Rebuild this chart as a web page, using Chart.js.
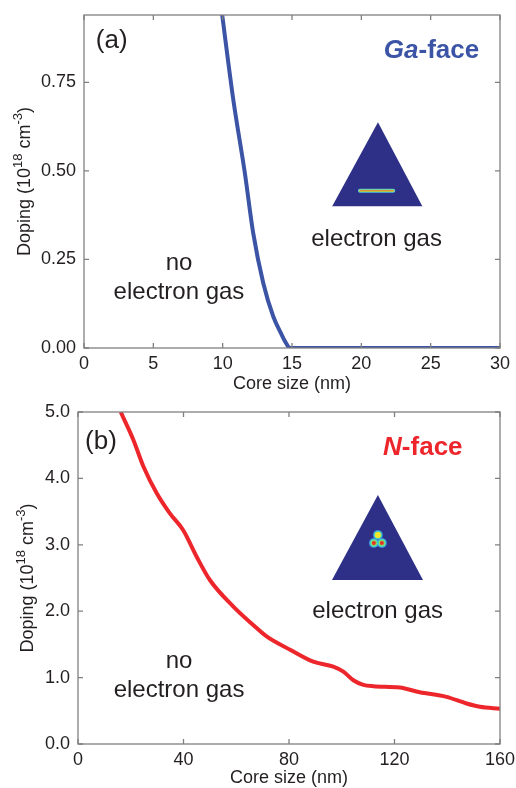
<!DOCTYPE html>
<html>
<head>
<meta charset="utf-8">
<script src="https://cdn.jsdelivr.net/npm/chart.js@4"></script>
<style>
  body { margin: 0; background: #fff; }
  .wrap { position: absolute; left: 0; }
  #topWrap { top: 0; }
  #botWrap { top: 395px; }
</style>
</head>
<body>
<div class="wrap" id="topWrap"><canvas id="topChart" width="516" height="395"></canvas></div>
<div class="wrap" id="botWrap"><canvas id="botChart" width="516" height="393"></canvas></div>
<script>
// (a) Ga-face: doping vs core size
const gaCore = [9.9, 10.77, 11.6, 12.2, 12.93, 13.65, 14.2, 14.6, 14.85, 20, 25, 30];
const gaDoping = [0.96, 0.70, 0.494, 0.325, 0.183, 0.089, 0.042, 0.012, 0, 0, 0, 0];
const gaYTicks = [0, 0.25, 0.5, 0.75];

// (b) N-face
const nCore = [16.2, 21, 24.8, 29.8, 34.9, 39.9, 45, 50, 58.9, 66.5, 71.5, 80.4, 89.2, 96.8, 100.6, 104.4, 108.2, 112, 122, 129.6, 139.7, 147.3, 152.4, 160];
const nDoping = [5.0, 4.58, 4.18, 3.78, 3.47, 3.22, 2.82, 2.47, 2.07, 1.79, 1.62, 1.42, 1.24, 1.165, 1.09, 0.96, 0.89, 0.87, 0.85, 0.78, 0.71, 0.61, 0.56, 0.53];
const nYTicks = [0, 1, 2, 3, 4, 5];

const FONT = '"Liberation Sans", Arial, sans-serif';
const TEXT = '#231f20';
const BLUE = '#3b54a5';
const RED = '#ec262b';

// frame, inward ticks, titles, labels and inset pictures
const decoPlugin = {
    id: 'deco',
    afterDraw(chart, args, opts) {
        const ctx = chart.ctx;
        const a = chart.chartArea;
        const xs = chart.scales.x, ys = chart.scales.y;
        ctx.save();
        ctx.strokeStyle = '#808080';
        ctx.lineWidth = 1.3;
        ctx.strokeRect(a.left, a.top, a.right - a.left, a.bottom - a.top);
        ctx.beginPath();
        xs.ticks.forEach(t => {
            const px = xs.getPixelForValue(t.value);
            ctx.moveTo(px, a.bottom); ctx.lineTo(px, a.bottom - 5);
            ctx.moveTo(px, a.top); ctx.lineTo(px, a.top + 5);
        });
        ys.ticks.forEach(t => {
            const py = ys.getPixelForValue(t.value);
            ctx.moveTo(a.left, py); ctx.lineTo(a.left + 5, py);
            ctx.moveTo(a.right, py); ctx.lineTo(a.right - 5, py);
        });
        ctx.stroke();

        // x title
        ctx.fillStyle = TEXT;
        ctx.font = '18px ' + FONT;
        ctx.textAlign = 'center';
        ctx.textBaseline = 'middle';
        ctx.fillText('Core size (nm)', (a.left + a.right) / 2, opts.xTitleY);

        // y title with superscripts
        const parts = [
            { t: 'Doping (10', s: 18, dy: 0 },
            { t: '18', s: 13, dy: -7 },
            { t: ' cm', s: 18, dy: 0 },
            { t: '-3', s: 13, dy: -7 },
            { t: ')', s: 18, dy: 0 }
        ];
        ctx.save();
        ctx.translate(opts.yTitleX, (a.top + a.bottom) / 2 + opts.yTitleShift);
        ctx.rotate(-Math.PI / 2);
        ctx.textAlign = 'left';
        let total = 0;
        parts.forEach(p => { ctx.font = p.s + 'px ' + FONT; p.w = ctx.measureText(p.t).width; total += p.w; });
        let cx = -total / 2;
        parts.forEach(p => {
            ctx.font = p.s + 'px ' + FONT;
            ctx.fillText(p.t, cx, p.dy);
            cx += p.w;
        });
        ctx.restore();

        // inset triangle
        const tri = opts.tri;
        const ax = xs.getPixelForValue(tri.apex[0]), ay = ys.getPixelForValue(tri.apex[1]);
        const bl = xs.getPixelForValue(tri.base[0]), br = xs.getPixelForValue(tri.base[1]);
        const by = ys.getPixelForValue(tri.baseY);
        ctx.fillStyle = '#2d3086';
        ctx.beginPath();
        ctx.moveTo(ax, ay); ctx.lineTo(br, by); ctx.lineTo(bl, by); ctx.closePath();
        ctx.fill();
        const fx = xs.getPixelForValue(tri.feat[0]), fy = ys.getPixelForValue(tri.feat[1]);
        if (tri.kind === 'streak') {
            const x2 = xs.getPixelForValue(tri.feat[2]);
            ctx.lineCap = 'round';
            [['#4fc6e6', 4], ['#9fe05a', 2.6], ['#f07a2a', 1.1]].forEach(([c, w]) => {
                ctx.strokeStyle = c; ctx.lineWidth = w;
                ctx.beginPath(); ctx.moveTo(fx, fy); ctx.lineTo(x2, fy); ctx.stroke();
            });
        } else {
            const lobes = [[0, -4.5], [-4, 3.5], [4, 3.5]];
            const dot = (x, y, r, c) => { ctx.fillStyle = c; ctx.beginPath(); ctx.arc(fx + x, fy + y, r, 0, Math.PI * 2); ctx.fill(); };
            lobes.forEach(([x, y]) => dot(x, y, 5, '#3a8fd6'));
            lobes.forEach(([x, y]) => dot(x, y, 4, '#46d1c8'));
            lobes.forEach(([x, y]) => dot(x, y, 3, '#8fe05a'));
            dot(0, -4.5, 3, '#f2e82a');
            dot(-4, 3.5, 2, '#e8302a');
            dot(4, 3.5, 2, '#e8302a');
        }

        // text labels
        ctx.textBaseline = 'middle';
        opts.labels.forEach(l => {
            ctx.font = l.font;
            ctx.fillStyle = l.color || TEXT;
            ctx.textAlign = l.align || 'center';
            ctx.fillText(l.text, xs.getPixelForValue(l.x), ys.getPixelForValue(l.y));
        });
        // face label: italic part + bold part, right aligned
        const f = opts.face;
        ctx.fillStyle = f.color;
        ctx.textAlign = 'left';
        ctx.font = 'italic bold 26px ' + FONT;
        const w1 = ctx.measureText(f.ital).width;
        ctx.font = 'bold 26px ' + FONT;
        const w2 = ctx.measureText(f.rest).width;
        const rx = xs.getPixelForValue(f.x), ry = ys.getPixelForValue(f.y);
        ctx.font = 'italic bold 26px ' + FONT;
        ctx.fillText(f.ital, rx - w1 - w2, ry);
        ctx.font = 'bold 26px ' + FONT;
        ctx.fillText(f.rest, rx - w2, ry);
        ctx.restore();
    }
};

function makeChart(id, xs, ys, color, cfg) {
    return new Chart(document.getElementById(id), {
        type: 'line',
        data: {
            datasets: [{
                data: xs.map((x, i) => ({ x: x, y: ys[i] })),
                borderColor: color,
                borderWidth: 4,
                pointRadius: 0,
                cubicInterpolationMode: 'monotone',
                fill: false
            }]
        },
        options: {
            responsive: false,
            animation: false,
            devicePixelRatio: 1,
            layout: { padding: { left: 0, right: 16, top: cfg.padTop, bottom: 0 } },
            plugins: {
                legend: { display: false },
                tooltip: { enabled: false },
                deco: cfg.deco
            },
            scales: {
                x: {
                    type: 'linear',
                    min: cfg.xMin, max: cfg.xMax,
                    ticks: { stepSize: cfg.xStep, padding: 5, color: TEXT, font: { family: FONT, size: 18 }, maxRotation: 0 },
                    grid: { display: true, drawOnChartArea: false, drawTicks: false },
                    border: { display: false },
                    afterFit: s => { s.height = cfg.xHeight; s.paddingLeft = 0; s.paddingRight = 0; }
                },
                y: {
                    min: cfg.yMin, max: cfg.yMax,
                    afterBuildTicks: s => { s.ticks = cfg.yTicks.map(v => ({ value: v })); },
                    ticks: { padding: 8, color: TEXT, font: { family: FONT, size: 18 }, callback: v => v.toFixed(cfg.dec) },
                    grid: { display: true, drawOnChartArea: false, drawTicks: false },
                    border: { display: false },
                    afterFit: s => { s.width = cfg.yWidth; s.paddingTop = 0; s.paddingBottom = 0; }
                }
            }
        },
        plugins: [decoPlugin]
    });
}

makeChart('topChart', gaCore, gaDoping, BLUE, {
    padTop: 15, xMin: 0, xMax: 30, xStep: 5, yMin: 0, yMax: 0.94, yTicks: gaYTicks, dec: 2,
    xHeight: 47, yWidth: 84,
    deco: {
        xTitleY: 384, yTitleX: 25, yTitleShift: 0,
        tri: { apex: [21.2, 0.637], base: [17.9, 24.4], baseY: 0.40, kind: 'streak', feat: [19.9, 0.444, 22.3] },
        labels: [
            { text: '(a)', x: 2.0, y: 0.866, font: '26px ' + FONT },
            { text: 'electron gas', x: 21.1, y: 0.306, font: '24px ' + FONT },
            { text: 'no', x: 6.85, y: 0.24, font: '24px ' + FONT },
            { text: 'electron gas', x: 6.85, y: 0.158, font: '24px ' + FONT }
        ],
        face: { ital: 'Ga', rest: '-face', x: 28.5, y: 0.838, color: BLUE }
    }
});

makeChart('botChart', nCore, nDoping, RED, {
    padTop: 17, xMin: 0, xMax: 160, xStep: 40, yMin: 0, yMax: 5, yTicks: nYTicks, dec: 1,
    xHeight: 44, yWidth: 78,
    deco: {
        xTitleY: 383, yTitleX: 28, yTitleShift: 0,
        tri: { apex: [113.7, 3.75], base: [96.3, 130.8], baseY: 2.47, kind: 'blob', feat: [113.7, 3.08] },
        labels: [
            { text: '(b)', x: 8.7, y: 4.55, font: '26px ' + FONT },
            { text: 'electron gas', x: 113.6, y: 1.99, font: '24px ' + FONT },
            { text: 'no', x: 38.3, y: 1.24, font: '24px ' + FONT },
            { text: 'electron gas', x: 38.3, y: 0.81, font: '24px ' + FONT }
        ],
        face: { ital: 'N', rest: '-face', x: 145.8, y: 4.46, color: RED }
    }
});
</script>
</body>
</html>
